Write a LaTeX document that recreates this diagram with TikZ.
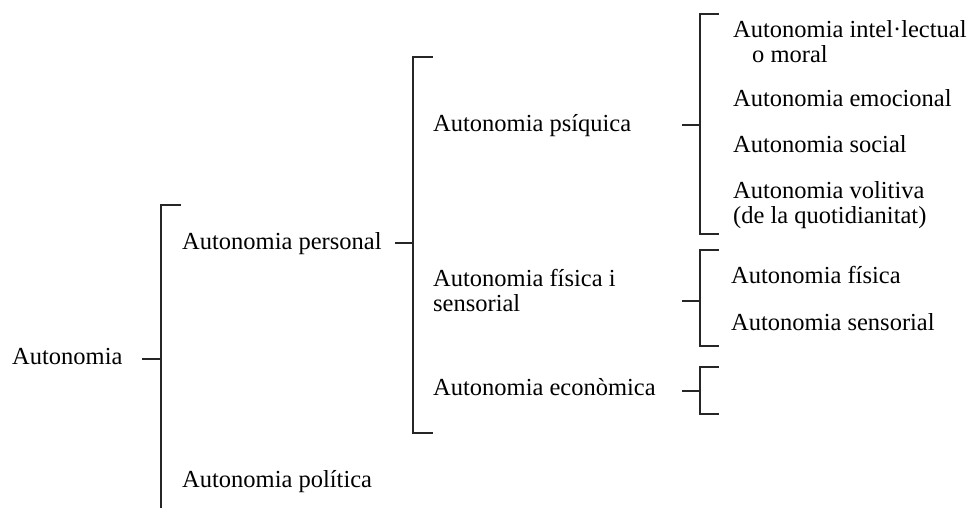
\documentclass[tikz,border=0pt]{standalone}
\usepackage{fontspec}
\setmainfont{Liberation Serif}
\usetikzlibrary{positioning}

\begin{document}
\begin{tikzpicture}[x=1pt, y=-1pt,
    every node/.style={inner sep=0pt, anchor=base west,
      font=\fontsize{24.5}{24.5}\selectfont},
    bracket/.style={line width=1.3pt, black!85}
    ]
\useasboundingbox (0,0) rectangle (968,507);
% texts (multi-line nodes sit on their last baseline)
\node (aut)   at (12,364)  {Autonomia};
\node (pers)  at (182,249) {Autonomia personal};
\node (pol)   at (182,487) {Autonomia política};
\node (psi)   at (433,131) {Autonomia psíquica};
\node[align=left] (fisi) at (433,311) {Autonomia física i\\sensorial};
\node (eco)   at (433,395) {Autonomia econòmica};
\node[align=left] (intel) at (733,62) {Autonomia intel·lectual\\\hspace*{19pt}o moral};
\node (emo)   at (733,106) {Autonomia emocional};
\node (soc)   at (733,152) {Autonomia social};
\node[align=left] (vol) at (733,223) {Autonomia volitiva\\(de la quotidianitat)};
\node (fis)   at (731,283) {Autonomia física};
\node (sens)  at (731,330) {Autonomia sensorial};

% bracket points
\coordinate (aut-in)  at (142,359);
\coordinate (aut-sp)  at (161,359);
\coordinate (aut-top) at (181,205);
\coordinate (aut-bot) at (161,509);
\coordinate (pers-in)  at (395,243);
\coordinate (pers-sp)  at (413,243);
\coordinate (pers-top) at (433,57);
\coordinate (pers-bot) at (433,433);
\coordinate (psi-in)  at (682,125);
\coordinate (psi-sp)  at (700,125);
\coordinate (psi-top) at (719,14);
\coordinate (psi-bot) at (719,234);
\coordinate (fisi-in)  at (682,301);
\coordinate (fisi-sp)  at (700,301);
\coordinate (fisi-top) at (719,250);
\coordinate (fisi-bot) at (719,346);
\coordinate (eco-in)  at (682,391);
\coordinate (eco-sp)  at (700,391);
\coordinate (eco-top) at (719,367);
\coordinate (eco-bot) at (719,414);

% brackets
\draw[bracket] (aut-in) -- (aut-sp);
\draw[bracket] (aut-top) -| (aut-bot);
\draw[bracket] (pers-in) -- (pers-sp);
\draw[bracket] (pers-top) -| (pers-sp) |- (pers-bot);
\draw[bracket] (psi-in) -- (psi-sp);
\draw[bracket] (psi-top) -| (psi-sp) |- (psi-bot);
\draw[bracket] (fisi-in) -- (fisi-sp);
\draw[bracket] (fisi-top) -| (fisi-sp) |- (fisi-bot);
\draw[bracket] (eco-in) -- (eco-sp);
\draw[bracket] (eco-top) -| (eco-sp) |- (eco-bot);
\end{tikzpicture}
\end{document}
